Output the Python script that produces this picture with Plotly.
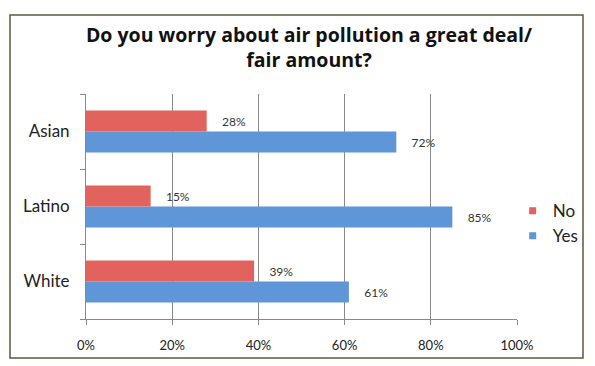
import plotly.graph_objects as go

categories = ["White", "Latino", "Asian"]  # bottom to top
no_values = [39, 15, 28]
yes_values = [61, 85, 72]
x_ticks = [0, 20, 40, 60, 80, 100]
x_tick_labels = ["0%", "20%", "40%", "60%", "80%", "100%"]
title_text = "Do you worry about air pollution a great deal/<br>fair amount?"

RED = "#e2625d"
BLUE = "#5f96d8"
FONT = "Lato, 'DejaVu Sans', sans-serif"

fig = go.Figure()
fig.add_trace(go.Bar(
    y=categories, x=yes_values, orientation="h", name="Yes",
    marker=dict(color=BLUE, line=dict(width=0)),
    text=[f"    {v}%" for v in yes_values], textposition="outside",
    textfont=dict(size=12, color="#333333", family=FONT),
    cliponaxis=False, showlegend=False,
))
fig.add_trace(go.Bar(
    y=categories, x=no_values, orientation="h", name="No",
    marker=dict(color=RED, line=dict(width=0)),
    text=[f"    {v}%" for v in no_values], textposition="outside",
    textfont=dict(size=12, color="#333333", family=FONT),
    cliponaxis=False, showlegend=False,
))
# legend entries with small square swatches
for name, col in [("No", RED), ("Yes", BLUE)]:
    fig.add_trace(go.Scatter(
        x=[None], y=[None], mode="markers", name=name,
        marker=dict(symbol="square", size=7, color=col),
    ))

fig.update_layout(
    width=595, height=366,
    margin=dict(l=86, r=78, t=94, b=47, autoexpand=False),
    paper_bgcolor="white", plot_bgcolor="white",
    barmode="group", bargap=0.44, bargroupgap=0,
    title=dict(text=title_text, x=309 / 595, xanchor="center",
               y=1 - 42 / 366, yanchor="middle", automargin=False,
               font=dict(family="'Open Sans', Lato, sans-serif", size=19.5,
                         color="#111111", weight="bold")),
    legend=dict(x=0.99, xanchor="left", y=0.424, yanchor="middle",
                font=dict(family=FONT, size=17, color="#222222"),
                traceorder="normal", itemwidth=30, tracegroupgap=0,
                bgcolor="rgba(0,0,0,0)"),
    font=dict(family=FONT, color="#222222"),
    shapes=[dict(type="rect", xref="paper", yref="paper",
                 x0=(10 - 86) / 431, x1=(583 - 86) / 431,
                 y0=(319 - 358) / 225, y1=(319 - 15) / 225,
                 line=dict(color="#5c5a40", width=1.5), layer="below")],
)
fig.update_xaxes(
    range=[0, 100], tickmode="array", tickvals=x_ticks, ticktext=x_tick_labels,
    showgrid=True, gridcolor="#8a8a8a", gridwidth=1,
    showline=True, linecolor="#8a8a8a", linewidth=1,
    ticks="outside", ticklen=5, tickcolor="#8a8a8a",
    tickfont=dict(family=FONT, size=13, color="#222222"),
    ticklabelstandoff=9, zeroline=False, automargin=False,
)
fig.update_yaxes(
    categoryorder="array", categoryarray=categories,
    showline=True, linecolor="#8a8a8a", linewidth=1,
    ticks="outside", ticklen=5, tickcolor="#8a8a8a", tickson="boundaries",
    tickfont=dict(family=FONT, size=17, color="#222222"),
    showgrid=False, ticklabelstandoff=12, automargin=False,
)

fig.write_html("out.html", config={"displayModeBar": False},
               post_script="document.body.style.margin='0';document.body.style.padding='0';")
